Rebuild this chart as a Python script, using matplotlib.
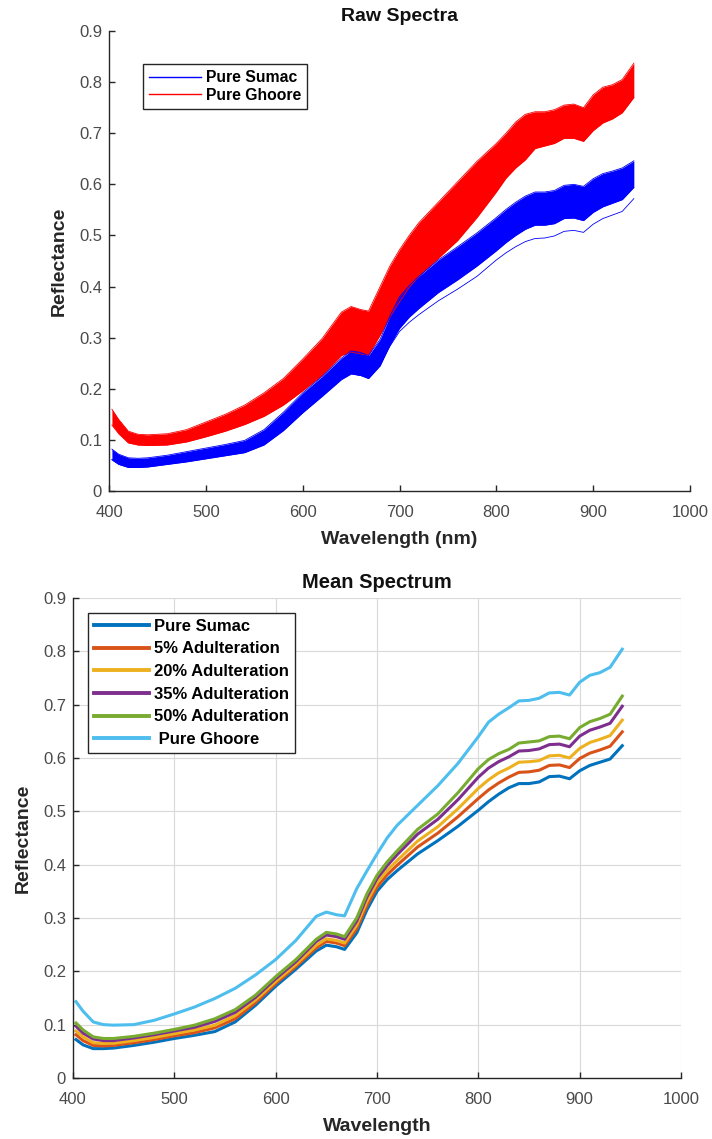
import numpy as np
import matplotlib
matplotlib.use("Agg")
import matplotlib.pyplot as plt

plt.rcParams['font.family'] = ['Liberation Sans', 'DejaVu Sans']

# wavelength grid (nm)
wavelength = [403, 410, 420, 430, 440, 460, 480, 500, 520, 540, 560, 580, 600, 620, 640, 650, 660, 668,
              680, 690, 700, 710, 720, 740, 760, 780, 800, 810, 820, 830, 840, 850, 860, 870, 880, 890,
              900, 910, 920, 930, 942]

# raw spectra envelopes
sumac_lo = [0.061, 0.052, 0.046, 0.046, 0.047, 0.052, 0.057, 0.063, 0.069, 0.075, 0.090, 0.118, 0.153, 0.185,
            0.218, 0.229, 0.226, 0.220, 0.245, 0.285, 0.318, 0.340, 0.357, 0.388, 0.413, 0.440, 0.470, 0.486,
            0.500, 0.512, 0.520, 0.520, 0.523, 0.533, 0.534, 0.529, 0.545, 0.556, 0.563, 0.570, 0.594]
sumac_hi = [0.082, 0.072, 0.065, 0.064, 0.065, 0.070, 0.077, 0.084, 0.091, 0.099, 0.120, 0.154, 0.192, 0.224,
            0.260, 0.274, 0.271, 0.265, 0.297, 0.342, 0.380, 0.402, 0.420, 0.452, 0.478, 0.505, 0.535, 0.551,
            0.565, 0.577, 0.585, 0.585, 0.588, 0.598, 0.600, 0.596, 0.611, 0.621, 0.626, 0.632, 0.646]
sumac_outlier = [0.062, 0.053, 0.047, 0.047, 0.048, 0.053, 0.058, 0.064, 0.070, 0.076, 0.091, 0.120, 0.155, 0.187,
                 0.220, 0.230, 0.226, 0.221, 0.247, 0.283, 0.312, 0.330, 0.345, 0.372, 0.395, 0.420, 0.452, 0.466,
                 0.478, 0.488, 0.494, 0.495, 0.499, 0.508, 0.510, 0.506, 0.522, 0.533, 0.540, 0.547, 0.572]
ghoore_lo = [0.129, 0.112, 0.094, 0.090, 0.089, 0.090, 0.096, 0.106, 0.117, 0.130, 0.146, 0.168, 0.196, 0.226,
             0.265, 0.272, 0.268, 0.266, 0.305, 0.340, 0.370, 0.398, 0.420, 0.455, 0.490, 0.535, 0.585, 0.612,
             0.632, 0.648, 0.670, 0.675, 0.680, 0.690, 0.690, 0.684, 0.705, 0.720, 0.728, 0.740, 0.770]
ghoore_hi = [0.160, 0.140, 0.117, 0.111, 0.110, 0.112, 0.120, 0.135, 0.150, 0.168, 0.192, 0.220, 0.258, 0.298,
             0.350, 0.361, 0.355, 0.352, 0.400, 0.440, 0.472, 0.500, 0.525, 0.565, 0.605, 0.645, 0.680, 0.700,
             0.722, 0.737, 0.742, 0.742, 0.746, 0.755, 0.757, 0.750, 0.775, 0.790, 0.795, 0.805, 0.837]

# mean spectra (bottom panel)
mean_sumac = [0.072, 0.062, 0.055, 0.055, 0.056, 0.061, 0.067, 0.074, 0.080, 0.087, 0.105, 0.136, 0.172, 0.204,
              0.238, 0.249, 0.246, 0.241, 0.272, 0.315, 0.350, 0.372, 0.389, 0.420, 0.445, 0.472, 0.502, 0.518,
              0.532, 0.544, 0.552, 0.552, 0.555, 0.565, 0.566, 0.561, 0.576, 0.586, 0.592, 0.598, 0.623]
mean_5 = [0.081, 0.070, 0.061, 0.060, 0.061, 0.066, 0.072, 0.079, 0.085, 0.094, 0.111, 0.141, 0.177, 0.209,
          0.244, 0.256, 0.253, 0.248, 0.280, 0.323, 0.358, 0.381, 0.399, 0.433, 0.459, 0.490, 0.524, 0.540,
          0.553, 0.564, 0.573, 0.574, 0.577, 0.586, 0.587, 0.582, 0.599, 0.609, 0.615, 0.622, 0.649]
mean_20 = [0.088, 0.077, 0.066, 0.065, 0.065, 0.070, 0.076, 0.083, 0.090, 0.099, 0.117, 0.146, 0.181, 0.213,
           0.249, 0.261, 0.258, 0.253, 0.287, 0.331, 0.366, 0.389, 0.408, 0.444, 0.471, 0.505, 0.543, 0.559,
           0.572, 0.581, 0.592, 0.593, 0.595, 0.604, 0.605, 0.600, 0.618, 0.629, 0.635, 0.642, 0.671]
mean_35 = [0.097, 0.084, 0.073, 0.070, 0.070, 0.075, 0.081, 0.088, 0.095, 0.106, 0.123, 0.151, 0.186, 0.218,
           0.256, 0.268, 0.265, 0.260, 0.294, 0.339, 0.374, 0.398, 0.419, 0.457, 0.485, 0.522, 0.564, 0.581,
           0.593, 0.602, 0.613, 0.614, 0.617, 0.625, 0.626, 0.621, 0.641, 0.652, 0.658, 0.665, 0.697]
mean_50 = [0.103, 0.090, 0.077, 0.074, 0.074, 0.078, 0.084, 0.091, 0.099, 0.111, 0.128, 0.155, 0.190, 0.222,
           0.260, 0.273, 0.270, 0.265, 0.300, 0.345, 0.380, 0.405, 0.426, 0.466, 0.495, 0.535, 0.580, 0.597,
           0.608, 0.616, 0.628, 0.630, 0.632, 0.640, 0.641, 0.636, 0.657, 0.668, 0.674, 0.682, 0.716]
mean_ghoore = [0.143, 0.125, 0.105, 0.100, 0.099, 0.100, 0.108, 0.120, 0.133, 0.149, 0.168, 0.193, 0.222, 0.258,
               0.303, 0.311, 0.306, 0.304, 0.355, 0.388, 0.420, 0.450, 0.474, 0.511, 0.548, 0.590, 0.640, 0.667,
               0.682, 0.694, 0.707, 0.708, 0.712, 0.722, 0.723, 0.718, 0.742, 0.755, 0.760, 0.770, 0.804]

mean_labels = ['Pure Sumac', '5% Adulteration', '20% Adulteration', '35% Adulteration',
               '50% Adulteration', ' Pure Ghoore']
mean_colors = ['#0072BD', '#D95319', '#EDB120', '#7E2F8E', '#77AC30', '#4DBEEE']

ink = '#262626'


def style_axes(ax):
    for s in ['top', 'right']:
        ax.spines[s].set_visible(False)
    for s in ['left', 'bottom']:
        ax.spines[s].set_color(ink)
        ax.spines[s].set_linewidth(1.0)
    ax.set_xlim(400, 1000)
    ax.set_ylim(0, 0.9)
    ax.set_xticks(np.arange(400, 1001, 100))
    ax.set_yticks(np.arange(0, 0.91, 0.1))
    ax.set_yticklabels(['0'] + [f'{v:.1f}' for v in np.arange(0.1, 0.91, 0.1)])
    ax.tick_params(direction='in', length=4, width=1, color=ink, labelcolor='#4a4a4a',
                   labelsize=12)
    ax.tick_params(axis='x', pad=10)
    ax.tick_params(axis='y', pad=5)


fig = plt.figure(figsize=(7.12, 11.39), dpi=100)

# ---- raw spectra ----
ax1 = fig.add_axes([0.1531, 0.5689, 0.816, 0.4039])
ax1.fill_between(wavelength, ghoore_lo, ghoore_hi, color='#ff0000', lw=0)
ax1.plot(wavelength, ghoore_lo, color='#ff0000', lw=0.6)
ax1.plot(wavelength, ghoore_hi, color='#ff0000', lw=0.6)
ax1.fill_between(wavelength, sumac_lo, sumac_hi, color='#0000ff', lw=0)
ax1.plot(wavelength, sumac_lo, color='#0000ff', lw=0.6)
ax1.plot(wavelength, sumac_hi, color='#0000ff', lw=0.6)
ax1.plot(wavelength, sumac_outlier, color='#0000ff', lw=0.6)
h_s, = ax1.plot([], [], color='#0000ff', lw=1, label='Pure Sumac')
h_g, = ax1.plot([], [], color='#ff0000', lw=1, label='Pure Ghoore')
style_axes(ax1)
ax1.set_title('Raw Spectra', fontsize=14, fontweight='bold', color='#111111', pad=7)
ax1.set_xlabel('Wavelength (nm)', fontsize=14, fontweight='bold', color=ink, labelpad=8)
ax1.set_ylabel('Reflectance', fontsize=14, fontweight='bold', color=ink, labelpad=8)
leg1 = ax1.legend(handles=[h_s, h_g], loc='upper left', bbox_to_anchor=(0.0585, 0.928),
                  borderaxespad=0, fancybox=False, edgecolor=ink, framealpha=1,
                  prop={'weight': 'bold', 'size': 11.3}, handlelength=3.3, labelspacing=0.15,
                  handletextpad=0.3, borderpad=0.4)
leg1.get_frame().set_linewidth(1.0)

# ---- mean spectrum ----
ax2 = fig.add_axes([0.1025, 0.0536, 0.854, 0.4214])
mean_series = [mean_sumac, mean_5, mean_20, mean_35, mean_50, mean_ghoore]
for vals, lab, col in zip(mean_series, mean_labels, mean_colors):
    ax2.plot(wavelength, vals, color=col, lw=2.2, label=lab)
style_axes(ax2)
ax2.grid(True, color='#d9d9d9', lw=0.8)
ax2.set_axisbelow(True)
ax2.set_title('Mean Spectrum', fontsize=14.5, fontweight='bold', color='#111111', pad=7)
ax2.set_xlabel('Wavelength', fontsize=14, fontweight='bold', color=ink, labelpad=8)
ax2.set_ylabel('Reflectance', fontsize=14, fontweight='bold', color=ink, labelpad=8)
leg2 = ax2.legend(loc='upper left', bbox_to_anchor=(0.0247, 0.969), borderaxespad=0,
                  fancybox=False, edgecolor=ink, framealpha=1,
                  prop={'weight': 'bold', 'size': 12}, handlelength=3.3, labelspacing=0.46,
                  handletextpad=0.3, borderpad=0.35)
leg2.get_frame().set_linewidth(1.0)
for line in leg2.get_lines():
    line.set_linewidth(2.8)

fig.savefig('out.png', dpi=100)
